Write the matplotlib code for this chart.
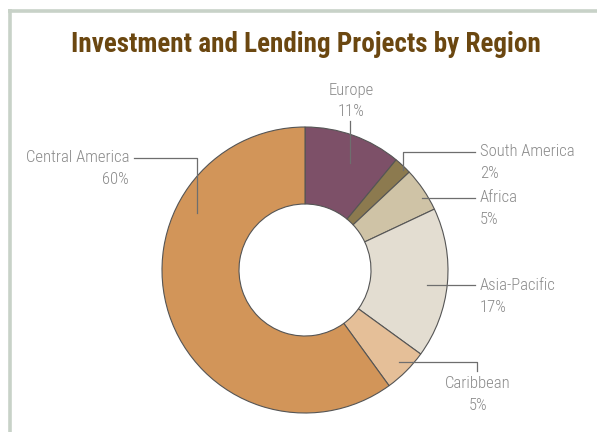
import matplotlib
matplotlib.use('Agg')
import matplotlib.pyplot as plt

# 数据
regions = ['Europe', 'South America', 'Africa', 'Asia-Pacific', 'Caribbean', 'Central America']
shares = [11, 2, 5, 17, 5, 60]
colors = ['#7D5068', '#8C7A4F', '#CFC3A6', '#E3DDD1', '#E5BF98', '#D29559']

# 布局（像素坐标，y 向下）
W, H = 597, 432
center = (305, 270)
r_out, r_in = 143, 66
# 标签位置、对齐、引线路径
label_layout = {
    'Europe':          dict(xy=(351, 90), ha='center', leader=[(350, 163), (350, 121)]),
    'South America':   dict(xy=(480, 152), ha='left', leader=[(403, 170), (403, 152), (475, 152)]),
    'Africa':          dict(xy=(480, 198), ha='left', leader=[(422, 198), (475, 198)]),
    'Asia-Pacific':    dict(xy=(480, 285), ha='left', leader=[(427, 285), (475, 285)]),
    'Caribbean':       dict(xy=(478, 383), ha='center', leader=[(399, 362), (477, 362), (477, 371)]),
    'Central America': dict(xy=(129, 158), ha='right', leader=[(197, 213), (197, 158), (134, 158)]),
}

fonts = ['Roboto Condensed', 'DejaVu Sans']
text_gray = '#8A8A8A'
line_gray = '#6E6E6E'

fig = plt.figure(figsize=(W / 100, H / 100), dpi=100)
ax = fig.add_axes([0, 0, 1, 1])

# y 轴翻转后，数据坐标逆时针 = 视觉顺时针
ax.pie(shares, colors=colors, startangle=-90, counterclock=True,
       center=center, radius=r_out,
       wedgeprops=dict(width=r_out - r_in, edgecolor='#555555', linewidth=0.8))
ax.set_xlim(0, W)
ax.set_ylim(H, 0)
ax.set_aspect('auto')
ax.axis('off')

# 外框
ax.plot([8, W], [10.5, 10.5], color='#C8D2C8', linewidth=2.6, solid_capstyle='butt')
ax.plot([9.5, 9.5], [9, H], color='#C8D2C8', linewidth=2.6, solid_capstyle='butt')

ax.text(306, 44, 'Investment and Lending Projects by Region', ha='center', va='center',
        fontsize=19.5, fontweight='bold', color='#6B4710', family=fonts)

for name, pct in zip(regions, shares):
    lay = label_layout[name]
    x, y = lay['xy']
    ax.text(x, y, name, ha=lay['ha'], va='center', fontsize=12, fontweight='light',
            color=text_gray, family=fonts)
    ax.text(x, y + 22, f'{pct}%', ha=lay['ha'], va='center', fontsize=12, fontweight='light',
            color=text_gray, family=fonts)
    xs, ys = zip(*lay['leader'])
    ax.plot(xs, ys, color=line_gray, linewidth=0.9)

fig.savefig('out.png', dpi=100)
